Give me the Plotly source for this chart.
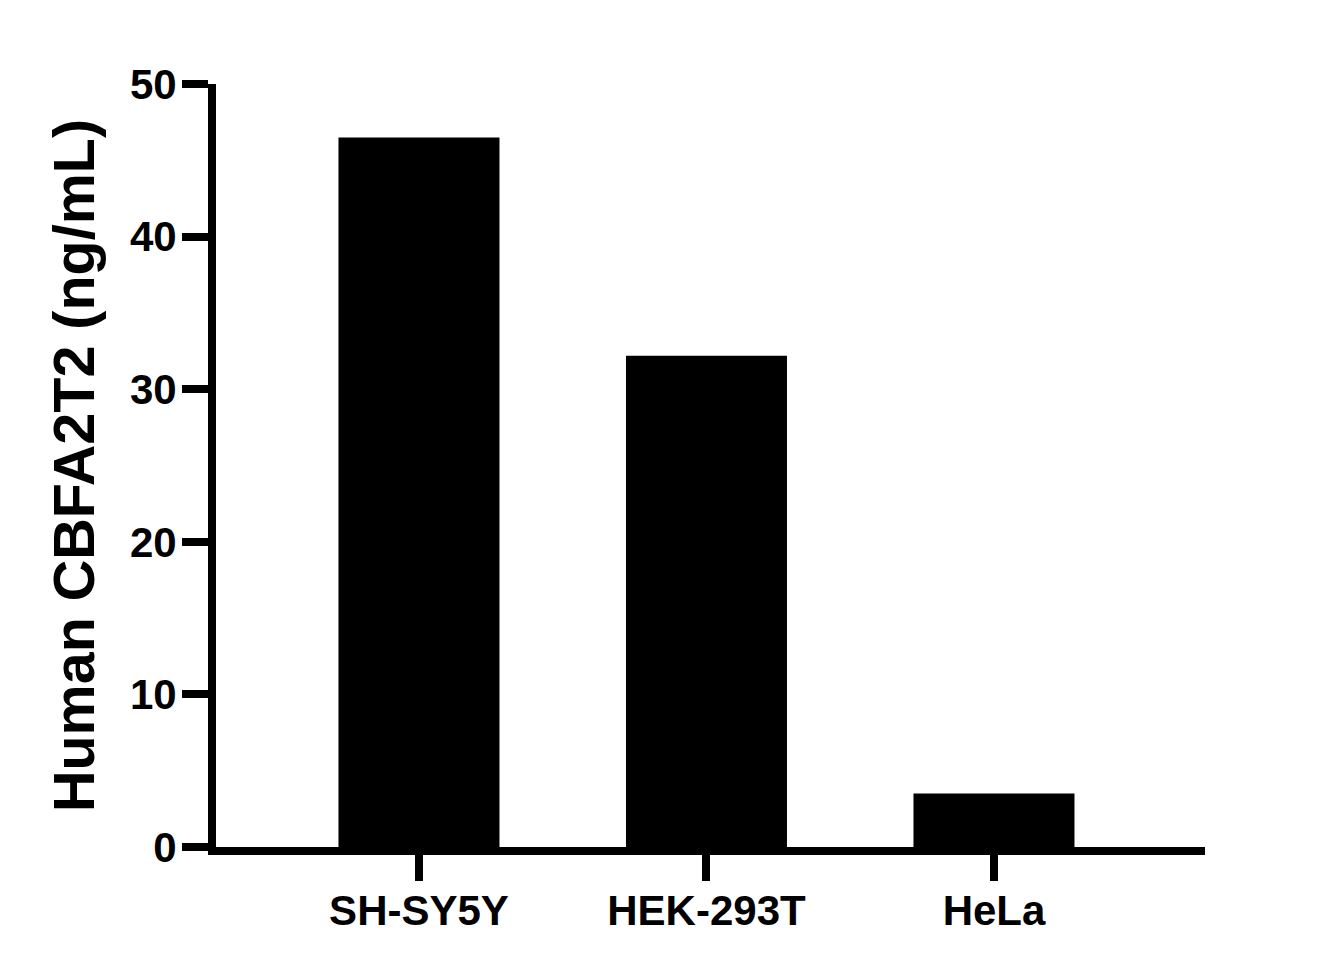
import plotly.graph_objects as go

# cell lines and measured concentration
cell_lines = ["SH-SY5Y", "HEK-293T", "HeLa"]
cbfa2t2_ng_ml = [46.5, 32.2, 3.5]
y_ticks = [0, 10, 20, 30, 40, 50]

FONT = "Arial, Liberation Sans, sans-serif"

fig = go.Figure()
fig.add_trace(go.Bar(
    x=cell_lines,
    y=cbfa2t2_ng_ml,
    width=0.56,
    marker=dict(color="black", line=dict(width=0)),
    showlegend=False,
))

# page body adds 8px on top/left, margins account for it
fig.update_layout(
    width=1340,
    height=972,
    margin=dict(l=208, r=143, t=76, b=133, autoexpand=False),
    paper_bgcolor="white",
    plot_bgcolor="white",
    font=dict(family=FONT, color="black"),
)

fig.update_xaxes(
    type="category",
    range=[-0.706, 2.734],
    showline=True, linewidth=8, linecolor="black",
    ticks="outside", ticklen=26, tickwidth=8, tickcolor="black",
    ticklabelstandoff=-6,
    tickfont=dict(family=FONT, size=42, weight="bold"),
    showgrid=False, zeroline=False,
)

fig.update_yaxes(
    range=[0, 50],
    tickvals=y_ticks,
    showline=True, linewidth=8, linecolor="black",
    ticks="outside", ticklen=26, tickwidth=8, tickcolor="black",
    ticklabelstandoff=-3,
    tickfont=dict(family=FONT, size=42, weight="bold"),
    title=dict(text="Human CBFA2T2 (ng/mL)",
               font=dict(family=FONT, size=57.5, weight="bold"),
               standoff=20),
    showgrid=False, zeroline=False,
)

fig.write_html("out.html")
